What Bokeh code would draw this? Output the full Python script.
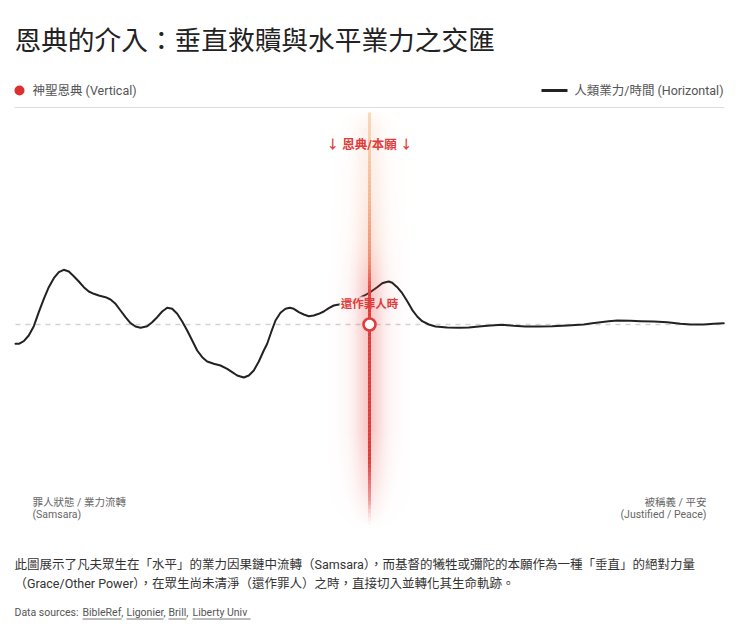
import numpy as np
from bokeh.plotting import figure
from bokeh.models import Range1d, Label
from bokeh.embed import file_html
from bokeh.resources import INLINE

# ---------------- data ----------------
time = [0.14, 0.61, 1.31, 2.01, 2.72, 3.42, 4.13, 4.83, 5.54, 6.24, 6.94, 7.65, 8.35, 9.06,
        9.76, 10.46, 11.17, 11.87, 12.82, 13.52, 14.23, 14.93, 15.63, 16.34, 17.04, 17.75,
        18.69, 19.39, 20.10, 20.80, 21.51, 22.21, 22.92, 23.62, 24.32, 25.03, 25.73, 26.44,
        27.14, 28.07, 29.01, 29.96, 30.66, 31.37, 32.30, 33.00, 33.70, 34.41, 35.11, 35.59,
        36.15, 36.76, 37.46, 38.17, 38.77, 39.34, 40.04, 40.75, 41.45, 42.15, 42.86, 43.56,
        44.27, 44.97, 45.68, 46.62, 47.61, 48.45, 49.30, 50.14, 51.08, 51.79, 52.25, 52.72,
        53.20, 53.90, 54.61, 55.32, 56.01, 56.72, 57.42, 58.35, 59.30, 60.94, 62.58, 63.99,
        65.39, 67.04, 68.69, 70.32, 71.97, 73.85, 75.73, 77.85, 80.18, 81.37, 82.54, 83.70,
        84.89, 86.76, 88.17, 90.04, 91.93, 93.80, 95.21, 97.08, 98.49, 99.90]
karma = [-3.86, -3.86, -3.34, -2.20, -0.34, 2.46, 5.14, 7.46, 9.26, 10.46, 10.94, 10.60, 9.66, 8.60,
         7.46, 6.60, 6.14, 5.80, 5.46, 5.00, 4.14, 2.80, 1.46, 0.26, -0.40, -0.66,
         -0.34, 0.46, 1.46, 2.60, 3.34, 3.14, 2.14, 0.60, -1.20, -3.20, -5.20, -6.54,
         -7.40, -7.86, -8.20, -8.86, -9.54, -10.20, -10.60, -10.20, -9.20, -7.40, -5.20, -3.86,
         -1.54, 0.80, 2.34, 3.14, 3.34, 3.14, 2.46, 2.00, 1.66, 1.80, 2.14, 2.60,
         3.26, 3.80, 4.00, 4.40, 4.80, 5.20, 5.80, 6.50, 7.46, 8.26, 8.46, 8.60,
         8.34, 7.46, 6.26, 4.66, 2.94, 1.60, 0.66, 0.00, -0.40, -0.60, -0.66, -0.60,
         -0.40, -0.20, -0.06, -0.26, -0.40, -0.40, -0.34, -0.20, 0.00, 0.26, 0.46, 0.66,
         0.80, 0.74, 0.66, 0.60, 0.46, 0.14, 0.00, 0.00, 0.14, 0.26]
GRACE_T = 50.0
GRACE_K = 0.0

TITLE = "恩典的介入：垂直救贖與水平業力之交匯"
LEG_V = "神聖恩典 (Vertical)"
LEG_H = "人類業力/時間 (Horizontal)"
ANN_TOP = "↓ 恩典/本願 ↓"
ANN_PT = "還作罪人時"
LEFT_LBL = ["罪人狀態 / 業力流轉", "(Samsara)"]
RIGHT_LBL = ["被稱義 / 平安", "(Justified / Peace)"]
NOTE = ["此圖展示了凡夫眾生在「水平」的業力因果鏈中流轉（Samsara），而基督的犧牲或彌陀的本願作為一種「垂直」的絕對力量",
        "（Grace/Other Power），在眾生尚未清淨（還作罪人）之時，直接切入並轉化其生命軌跡。"]
SRC_LEAD = "Data sources:"
SOURCES = ["BibleRef", "Ligonier", "Brill", "Liberty Univ"]

# ---------------- layout ----------------
W, H = 740, 631
X0_PAGE, PX_PER_T = 14, 7.1
BASE_PAGE, PX_PER_K = 324, 5.0
RED = "#e03c3c"
FONT = "Roboto, 'Noto Sans CJK TC', sans-serif"
CJK = "'Noto Sans CJK TC', Roboto, sans-serif"


def X(px):  # page x -> canvas px
    return px


def Y(py):  # page y -> canvas px from bottom
    return H - py


base_up = Y(BASE_PAGE)
x_range = Range1d(-X(X0_PAGE) / PX_PER_T, (W - X(X0_PAGE)) / PX_PER_T)
y_range = Range1d(-base_up / PX_PER_K, (H - base_up) / PX_PER_K)

p = figure(width=W, height=H, x_range=x_range, y_range=y_range,
           output_backend="svg", toolbar_location=None,
           x_axis_location=None, y_axis_location=None, min_border=0)
p.extra_x_ranges = {"px": Range1d(0, W)}
p.extra_y_ranges = {"py": Range1d(0, H)}
p.grid.visible = False
p.outline_line_color = None
p.background_fill_color = "white"
p.border_fill_color = "white"

# baseline
p.line([time[0], time[-1]], [0, 0], line_color="#d2d2d2", line_width=1.3, line_dash="5 5")

# karma line
p.line(time, karma, line_color="#222222", line_width=2, line_join="round", line_cap="round")

# background for point label
p.quad(left=[X(339)], right=[X(399)], bottom=[Y(311)], top=[Y(296)],
       fill_color="white", fill_alpha=0.9, line_color=None,
       x_range_name="px", y_range_name="py")

# glow image
top_p, bot_p = 110, 530
gh, gw = bot_p - top_p, 80
rows = np.arange(gh)
page_y = bot_p - rows
vy = np.interp(page_y, [110, 130, 200, 280, 430, 485, 530],
               [0.02, 0.12, 0.17, 0.27, 0.27, 0.15, 0.0])
dx = np.arange(gw) - (gw - 1) / 2
hx = 0.75 * np.exp(-dx ** 2 / (2 * 9 ** 2)) + 0.25 * np.exp(-dx ** 2 / (2 * 20 ** 2))
alpha = np.clip(vy[:, None] * hx[None, :], 0, 1)
mix = np.interp(page_y, [110, 240, 290, 530], [1.0, 0.8, 0.0, 0.0])[:, None]
rch = 229 * (1 - mix) + 242 * mix
gch = 57 * (1 - mix) + 150 * mix
bch = 53 * (1 - mix) + 100 * mix
img = np.zeros((gh, gw), dtype=np.uint32)
view = img.view(dtype=np.uint8).reshape((gh, gw, 4))
view[:, :, 0] = np.broadcast_to(rch, (gh, gw)).astype(np.uint8)
view[:, :, 1] = np.broadcast_to(gch, (gh, gw)).astype(np.uint8)
view[:, :, 2] = np.broadcast_to(bch, (gh, gw)).astype(np.uint8)
view[:, :, 3] = (alpha * 255).astype(np.uint8)
p.image_rgba(image=[img], x=GRACE_T - (gw / 2) / PX_PER_T, y=Y(bot_p),
             dw=gw / PX_PER_T, dh=gh, y_range_name="py")

# core beam (colour gradient along its length)
stops_y = [112, 200, 262, 295, 460, 500, 524]
stops_r = [249, 246, 240, 226, 226, 236, 250]
stops_g = [212, 182, 140, 60, 60, 120, 225]
stops_b = [178, 142, 110, 58, 58, 120, 225]
stops_a = [0.85, 1.0, 1.0, 1.0, 1.0, 0.7, 0.1]
seg_y = np.arange(112, 524, 4)
y0s, y1s, cols, alps = [], [], [], []
for yy in seg_y:
    ym = yy + 2
    r = int(np.interp(ym, stops_y, stops_r))
    g = int(np.interp(ym, stops_y, stops_g))
    b = int(np.interp(ym, stops_y, stops_b))
    a = float(np.interp(ym, stops_y, stops_a))
    y0s.append(Y(yy))
    y1s.append(Y(yy + 4.3))
    cols.append("#%02x%02x%02x" % (r, g, b))
    alps.append(a)
p.segment(x0=[GRACE_T] * len(y0s), x1=[GRACE_T] * len(y0s), y0=y0s, y1=y1s,
          line_color=cols, line_alpha=alps, line_width=3, y_range_name="py")

# intervention point
p.scatter([GRACE_T], [GRACE_K], size=12, fill_color="white", line_color=RED, line_width=2.6)


def label(x, y, text, size, color, align="left", bold=False, font=FONT):
    p.add_layout(Label(x=x, y=y, text=text, text_font=font, text_font_size=size,
                       text_color=color, text_align=align, text_baseline="middle",
                       text_font_style="bold" if bold else "normal",
                       x_range_name="px", y_range_name="py"))


# title
label(X(14), Y(38), TITLE, "26.7px", "#222222", font=CJK)

# legend
p.scatter([X(19)], [Y(90)], size=10, fill_color="#d93030", line_color=None,
          x_range_name="px", y_range_name="py")
label(X(32), Y(90), LEG_V, "12.5px", "#555555")
p.segment(x0=[X(541)], x1=[X(567)], y0=[Y(90)], y1=[Y(90)], line_color="#222222",
          line_width=3, x_range_name="px", y_range_name="py")
label(X(723), Y(90), LEG_H, "12.5px", "#555555", align="right")
p.segment(x0=[X(14)], x1=[X(724)], y0=[Y(107)], y1=[Y(107)], line_color="#dddddd",
          line_width=1, x_range_name="px", y_range_name="py")

# annotations
label(X(369), Y(144), ANN_TOP, "12.5px", RED, align="center", bold=True)
label(X(369), Y(303), ANN_PT, "11.5px", RED, align="center", bold=True)

label(X(32), Y(502), LEFT_LBL[0], "10.5px", "#666666")
label(X(32), Y(514), LEFT_LBL[1], "10.5px", "#666666")
label(X(706), Y(502), RIGHT_LBL[0], "10.5px", "#666666", align="right")
label(X(706), Y(514), RIGHT_LBL[1], "10.5px", "#666666", align="right")

# note
label(X(14), Y(564), NOTE[0], "12.5px", "#333333")
label(X(14), Y(583), NOTE[1], "12.5px", "#333333")

# sources
label(X(14), Y(612), SRC_LEAD, "10.5px", "#555555")
src_x = [82, 126, 168, 192]
src_w = [39, 37, 18, 58]
for i, (name, sx, sw) in enumerate(zip(SOURCES, src_x, src_w)):
    txt = name + ("," if i < len(SOURCES) - 1 else "")
    label(X(sx), Y(612), txt, "10.5px", "#555555")
    p.segment(x0=[X(sx)], x1=[X(sx + sw)], y0=[Y(618.5)], y1=[Y(618.5)],
              line_color="#555555", line_width=0.8, x_range_name="px", y_range_name="py")

open("out.html", "w").write(file_html(p, INLINE))
